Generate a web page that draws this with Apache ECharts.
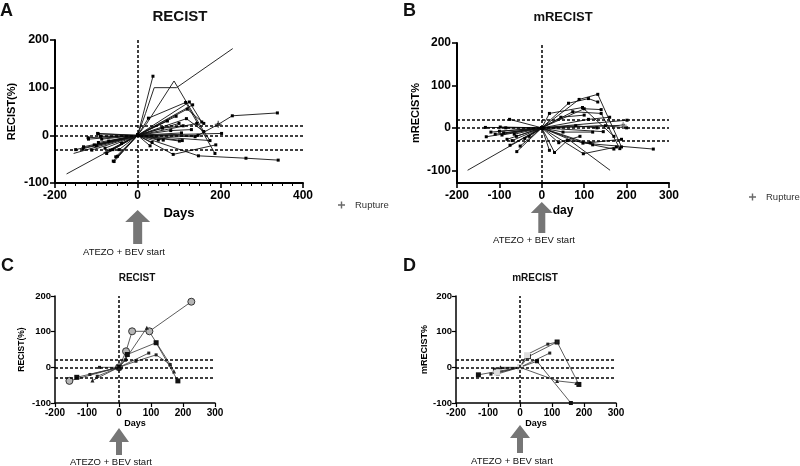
<!DOCTYPE html>
<html><head><meta charset="utf-8">
<script src="https://cdn.jsdelivr.net/npm/echarts@6/dist/echarts.min.js"></script>
<style>html,body{margin:0;padding:0;background:#fff}#c{width:800px;height:466px}</style>
</head><body><div id="c"></div>
<script>
const FONT = '"Liberation Sans", Arial, sans-serif';

// Panel A: RECIST (%) change vs days, all patients
const recistAll = [
  [[-155,-38],[0,0],[19,46],[40,100],[94,100],[230,182]],
  [[-83,-37],[0,0],[22,25],[88,114],[160,8],[175,-11]],
  [[-132,-28],[0,0],[26,36],[116,69],[187,-38]],
  [[-172,-81],[0,0],[37,124]],
  [[-95,3],[0,0],[133,64]],
  [[-57,-55],[0,0],[125,70],[155,28]],
  [[-49,-44],[0,0],[93,40]],
  [[-75,-38],[0,0],[118,35],[160,8]],
  [[-119,-8],[0,0],[72,30]],
  [[-95,-15],[0,0],[146,0],[195,23],[229,41],[338,47]],
  [[-131,-24],[0,0],[147,-43],[262,-48],[340,-52]],
  [[-111,-31],[0,0],[86,-40],[189,-20]],
  [[-105,-20],[0,0],[101,-12]],
  [[-87,-8],[0,0],[139,-3]],
  [[-79,-27],[0,0],[106,5]],
  [[-67,-31],[0,0],[30,-22]],
  [[-39,-17],[0,0],[62,-10]],
  [[-59,-54],[0,0],[143,25]],
  [[-53,-45],[0,0],[203,4]],
  [[-97,4],[0,0],[175,-11]],
  [[-120,-5],[0,0],[108,-11]],
  [[-60,-30],[0,0],[50,-10]],
  [[-100,-22],[0,0],[60,15],[110,20]],
  [[-70,-12],[0,0],[80,10],[130,12]],
  [[-45,-30],[0,0],[120,55],[160,25]],
  [[-90,-2],[0,0],[100,25]],
  [[-150,-30],[0,0],[35,-15]]
];
const ruptureA = [[195,23]];

// Panel B: mRECIST (%) change vs day, all patients
const mrecistAll = [
  [[-175,-100],[0,0],[60,-25],[161,-100]],
  [[-76,20],[0,0],[88,67],[132,79],[188,-45]],
  [[-98,2],[0,0],[63,58],[110,69],[132,61]],
  [[-133,1],[0,0],[73,38],[140,34],[184,-49]],
  [[-131,-21],[0,0],[18,34],[96,48],[170,-20]],
  [[-94,-17],[0,0],[98,-61],[176,-45]],
  [[-82,-27],[0,0],[30,-58],[60,-30],[114,-35],[188,-27]],
  [[-75,-41],[0,0],[18,-53]],
  [[-51,-43],[0,0],[145,-9]],
  [[-59,-56],[0,0],[201,18]],
  [[-120,-10],[0,0],[192,6]],
  [[-60,-20],[0,0],[97,-36],[263,-50]],
  [[-110,-15],[0,0],[110,20],[160,25]],
  [[-40,-25],[0,0],[50,-10],[120,-10]],
  [[-90,-12],[0,0],[80,5],[130,0]],
  [[-100,-8],[0,0],[45,25],[100,30]],
  [[-30,-20],[0,0],[150,5],[200,0]],
  [[-70,-30],[0,0],[40,-35],[90,-20]],
  [[-85,0],[0,0],[120,-40],[170,-50]],
  [[-65,-15],[0,0],[100,45],[140,43]]
];
const ruptureB = [[192,6]];

// Panel C: RECIST subgroup
const recistSub = [
  [[-155,-38],[0,0],[22,45],[41,101],[95,101],[226,184]],
  [[-83,-37],[0,0],[22,25],[87,111],[160,8],[172,-12]],
  [[-132,-28],[0,0],[26,36],[116,69],[184,-38]],
  [[-91,-20],[0,0],[93,40]],
  [[-61,0],[0,0],[53,17],[116,35],[160,8]],
  [[-68,-25],[0,0],[20,20]]
];

// Panel D: mRECIST subgroup
const mrecistSub = [
  [[-130,-21],[0,0],[26,30],[116,71],[184,-48]],
  [[-80,-5],[0,0],[22,36],[87,65],[116,71]],
  [[-91,-19],[0,0],[93,40]],
  [[-69,-18],[0,0],[53,17],[159,-100]],
  [[-61,0],[0,0],[116,-38],[176,-44]],
  [[-72,-15],[0,0],[22,34]]
];

const thresholds = [20, 0, -30];
const ticksB = [-100, 0, 100, 200];

// ---------- styling / building ----------
const PLUS = 'path://M4,0H6V4H10V6H6V10H4V6H0V4H4Z';
const DOT = {symbol:'rect', size:3, fill:'#000', border:'#000'};
const NONE = {symbol:'none', size:3, fill:'#000', border:'#000'};
const stylesA = i => (i < 2 ? NONE : DOT);
const stylesB = i => (i === 0 ? NONE : DOT);
const stylesC = [
  {symbol:'circle', size:7, fill:'#b5b5b5', border:'#333'},
  {symbol:'triangle', size:4, fill:'#222', border:'#222'},
  {symbol:'rect', size:5, fill:'#111', border:'#111'},
  {symbol:'rect', size:3, fill:'#222', border:'#222'},
  {symbol:'rect', size:3, fill:'#222', border:'#222'},
  {symbol:'rect', size:3, fill:'#222', border:'#222'}
];
const stylesD = [
  {symbol:'rect', size:5, fill:'#111', border:'#111'},
  {symbol:'rect', size:3, fill:'#222', border:'#222'},
  {symbol:'rect', size:3, fill:'#222', border:'#222'},
  {symbol:'rect', size:4, fill:'#111', border:'#111'},
  {symbol:'triangle', size:4, fill:'#222', border:'#222'},
  {symbol:'rect', size:6, fill:'#ddd', border:'#444'}
];
// first point of these series drawn without a marker (open line end)
const openStartA = [3];

function spider(list, gi, styleFn, width, color, openStart) {
  return list.map((pts, i) => {
    const s = styleFn(i);
    const data = pts.map((p, k) => (k === 0 && openStart && openStart.includes(i)) ? {value:p, symbol:'none'} : p);
    return {
      type:'line', xAxisIndex:gi, yAxisIndex:gi, data:data, silent:true,
      symbol:s.symbol, symbolSize:s.size, showSymbol:s.symbol !== 'none',
      lineStyle:{width:width, color:color},
      itemStyle:{color:s.fill, borderColor:s.border, borderWidth:s.symbol==='circle'?1:0},
      z:3
    };
  });
}
function refLines(gi) {
  return {
    type:'line', xAxisIndex:gi, yAxisIndex:gi, data:[[0,0]], symbol:'none', silent:true,
    lineStyle:{width:0}, z:2,
    markLine:{
      symbol:'none', silent:true, label:{show:false},
      lineStyle:{type:[3,2], width:1.5, color:'#000'},
      emphasis:{disabled:true},
      data: thresholds.map(v => ({yAxis:v})).concat([{xAxis:0}])
    }
  };
}
function xAx(gi, o) {
  return {
    gridIndex:gi, type:'value', min:o.min, max:o.max, interval:o.interval,
    axisLine:{onZero:false, lineStyle:{color:'#000', width:o.lw}},
    axisTick:{length:o.tl, lineStyle:{width:o.lw*0.8, color:'#000'}},
    minorTick:o.minor ? {show:true, splitNumber:o.minor, length:3, lineStyle:{color:'#000', width:1}} : {show:false},
    splitLine:{show:false},
    axisLabel:{fontSize:o.fs, fontWeight:'bold', color:'#000', fontFamily:FONT, margin:o.margin},
    name:o.name, nameLocation:'middle', nameGap:o.gap,
    nameTextStyle:{fontSize:o.nfs, fontWeight:'bold', color:'#000', fontFamily:FONT}
  };
}
function yAx(gi, o) {
  const ax = {
    gridIndex:gi, type:'value', min:o.min, max:o.max,
    axisLine:{show:true, onZero:false, lineStyle:{color:'#000', width:o.lw}},
    axisTick:{show:true, length:o.tl, lineStyle:{width:o.lw*0.8, color:'#000'}},
    splitLine:{show:false},
    axisLabel:{fontSize:o.fs, fontWeight:'bold', color:'#000', fontFamily:FONT, margin:o.margin},
    name:o.name, nameLocation:'middle', nameGap:o.gap,
    nameTextStyle:{fontSize:o.nfs, fontWeight:'bold', color:'#000', fontFamily:FONT}
  };
  if (o.custom) {
    ax.axisLabel.customValues = o.custom;
    ax.axisTick.customValues = o.custom;
  } else {
    ax.interval = o.interval;
  }
  return ax;
}

const chart = echarts.init(document.getElementById('c'), null, {renderer:'canvas'});

const series = [].concat(
  [refLines(0), refLines(1), refLines(2), refLines(3)],
  spider(recistAll, 0, stylesA, 0.9, '#111', openStartA),
  spider(mrecistAll, 1, stylesB, 0.9, '#111'),
  spider(recistSub, 2, i => stylesC[i], 0.8, '#333'),
  spider(mrecistSub, 3, i => stylesD[i], 0.8, '#333'),
  [
    {type:'scatter', name:'Rupture', xAxisIndex:0, yAxisIndex:0, data:ruptureA, symbol:PLUS, symbolSize:7, itemStyle:{color:'#444'}, z:5, silent:true},
    {type:'scatter', name:'Rupture', xAxisIndex:1, yAxisIndex:1, data:ruptureB, symbol:PLUS, symbolSize:7, itemStyle:{color:'#999'}, z:5, silent:true}
  ]
);

const txt = (x, y, text, font, align) => ({
  type:'text', x:x, y:y, silent:true,
  style:{text:text, font:font, fill:'#111', align:align||'center', verticalAlign:'middle', textAlign:align||'center', textVerticalAlign:'middle'}
});

const baseGraphics = [
  txt(0, 11, 'A', 'bold 18px ' + FONT, 'left'),
  txt(180, 17, 'RECIST', 'bold 15px ' + FONT),
  txt(403, 11, 'B', 'bold 18px ' + FONT, 'left'),
  txt(563, 17, 'mRECIST', 'bold 13px ' + FONT),
  txt(1, 266, 'C', 'bold 18px ' + FONT, 'left'),
  txt(137, 278, 'RECIST', 'bold 10px ' + FONT),
  txt(403, 266, 'D', 'bold 18px ' + FONT, 'left'),
  txt(535, 278, 'mRECIST', 'bold 10px ' + FONT),
  txt(124, 252, 'ATEZO + BEV start', '9.5px ' + FONT),
  txt(534, 240, 'ATEZO + BEV start', '9.5px ' + FONT),
  txt(111, 462, 'ATEZO + BEV start', '9.5px ' + FONT),
  txt(512, 461, 'ATEZO + BEV start', '9.5px ' + FONT)
];

chart.setOption({
  animation:false,
  backgroundColor:'#fff',
  textStyle:{fontFamily:FONT},
  grid:[
    {left:55, top:40, width:248, height:143},
    {left:457, top:43, width:212, height:140},
    {left:55, top:296, width:160, height:107},
    {left:456, top:296, width:160, height:107}
  ],
  xAxis:[
    xAx(0, {min:-200, max:400, interval:200, lw:2, tl:5, fs:12, margin:7, minor:8, name:'Days', gap:24, nfs:13}),
    xAx(1, {min:-200, max:300, interval:100, lw:2, tl:5, fs:12, margin:7, name:'day', gap:22, nfs:12}),
    xAx(2, {min:-200, max:300, interval:100, lw:1.5, tl:4, fs:10, margin:5, name:'Days', gap:15, nfs:9}),
    xAx(3, {min:-200, max:300, interval:100, lw:1.5, tl:4, fs:10, margin:5, name:'Days', gap:15, nfs:9})
  ],
  yAxis:[
    yAx(0, {min:-100, max:200, interval:100, lw:2, tl:5, fs:12.5, margin:6, name:'RECIST(%)', gap:38, nfs:11}),
    yAx(1, {min:-130, max:200, custom:ticksB, lw:2, tl:5, fs:12, margin:6, name:'mRECIST%', gap:36, nfs:11}),
    yAx(2, {min:-100, max:200, interval:100, lw:1.5, tl:4, fs:9.5, margin:4, name:'RECIST(%)', gap:29, nfs:8.5}),
    yAx(3, {min:-100, max:200, interval:100, lw:1.5, tl:4, fs:9.5, margin:4, name:'mRECIST%', gap:27, nfs:9})
  ],
  legend:[
    {data:['Rupture'], left:338, top:200, padding:0, itemWidth:7, itemHeight:7, selectedMode:false,
     textStyle:{fontSize:9.5, color:'#333', fontFamily:FONT, padding:[0,0,0,5]}},
    {data:['Rupture'], left:749, top:192, padding:0, itemWidth:7, itemHeight:7, selectedMode:false,
     textStyle:{fontSize:9.5, color:'#333', fontFamily:FONT, padding:[0,0,0,5]}}
  ],
  series:series,
  graphic: baseGraphics
});

// Treatment-start arrows placed at day 0 of each panel's x axis
function arrow(x, tip, headBase, halfHead, halfShaft, bottom) {
  return {
    type:'polygon', silent:true,
    shape:{points:[[x,tip],[x+halfHead,headBase],[x+halfShaft,headBase],[x+halfShaft,bottom],
                   [x-halfShaft,bottom],[x-halfShaft,headBase],[x-halfHead,headBase]]},
    style:{fill:'#767676'}
  };
}
const x0 = [0,1,2,3].map(g => chart.convertToPixel({xAxisIndex:g}, 0));
chart.setOption({
  graphic: baseGraphics.concat([
    arrow(x0[0], 210, 222, 12.5, 4.5, 244),
    arrow(x0[1], 202, 213, 11, 3.5, 233),
    arrow(x0[2], 428, 442, 10, 3, 455),
    arrow(x0[3], 425, 438, 10, 3, 453)
  ])
}, {replaceMerge:['graphic']});
</script>
</body></html>
